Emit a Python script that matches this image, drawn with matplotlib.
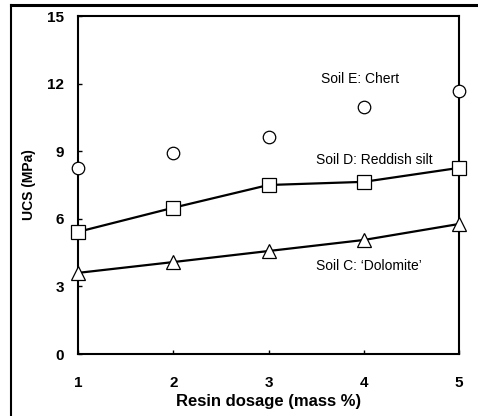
import matplotlib
matplotlib.use("Agg")
import matplotlib.pyplot as plt
from matplotlib.lines import Line2D

plt.rcParams['font.family'] = ['Liberation Sans', 'DejaVu Sans']

dosage = [1, 2, 3, 4, 5]
soil_e_chert = [8.27, 8.91, 9.62, 10.94, 11.65]
soil_d_silt = [5.42, 6.49, 7.50, 7.64, 8.26]
soil_c_dolomite = [3.60, 4.08, 4.57, 5.06, 5.77]
xticks = [1, 2, 3, 4, 5]
yticks = [0, 3, 6, 9, 12, 15]

W, H = 478, 416
fig = plt.figure(figsize=(W / 100, H / 100), dpi=100)
ax = fig.add_axes([78 / W, (H - 354) / H, (459 - 78) / W, (354 - 16) / H])

ax.plot(dosage, soil_e_chert, linestyle='none', marker='o', markersize=9,
        markerfacecolor='white', markeredgecolor='black', markeredgewidth=0.9,
        clip_on=False, zorder=3)
ax.plot(dosage, soil_d_silt, color='black', linewidth=1.6, marker='s', markersize=10,
        markerfacecolor='white', markeredgecolor='black', markeredgewidth=0.9,
        clip_on=False, zorder=3)
ax.plot(dosage, soil_c_dolomite, color='black', linewidth=1.6, marker='^', markersize=10,
        markerfacecolor='white', markeredgecolor='black', markeredgewidth=0.9,
        clip_on=False, zorder=3)

ax.set_xlim(1, 5)
ax.set_ylim(0, 15)
ax.set_xticks(xticks)
ax.set_yticks(yticks)
ax.set_xticklabels([str(v) for v in xticks], fontsize=11, fontweight='bold')
ax.set_yticklabels([str(v) for v in yticks], fontsize=11, fontweight='bold')
ax.tick_params(axis='both', direction='in', length=3, width=1)
ax.tick_params(axis='x', pad=16)
ax.tick_params(axis='y', pad=10)
for s in ax.spines.values():
    s.set_linewidth(1.5)

ax.set_xlabel('Resin dosage (mass %)', fontsize=12, fontweight='bold', labelpad=3)
ax.set_ylabel('UCS (MPa)', fontsize=10, fontweight='bold', labelpad=8)

ax.text(3.55, 12.2, 'Soil E: Chert', fontsize=10, va='center', ha='left')
ax.text(3.5, 8.6, 'Soil D: Reddish silt', fontsize=10, va='center', ha='left')
ax.text(3.5, 3.9, "Soil C: \u2018Dolomite\u2019", fontsize=10, va='center', ha='left')

# outer frame (left and top lines)
fig.add_artist(Line2D([11 / W, 11 / W], [0, (H - 5) / H], color='black', linewidth=1.5,
                      transform=fig.transFigure))
fig.add_artist(Line2D([11 / W, 1], [(H - 5) / H, (H - 5) / H], color='black', linewidth=2.2,
                      transform=fig.transFigure))

fig.savefig('out.png', dpi=100)
